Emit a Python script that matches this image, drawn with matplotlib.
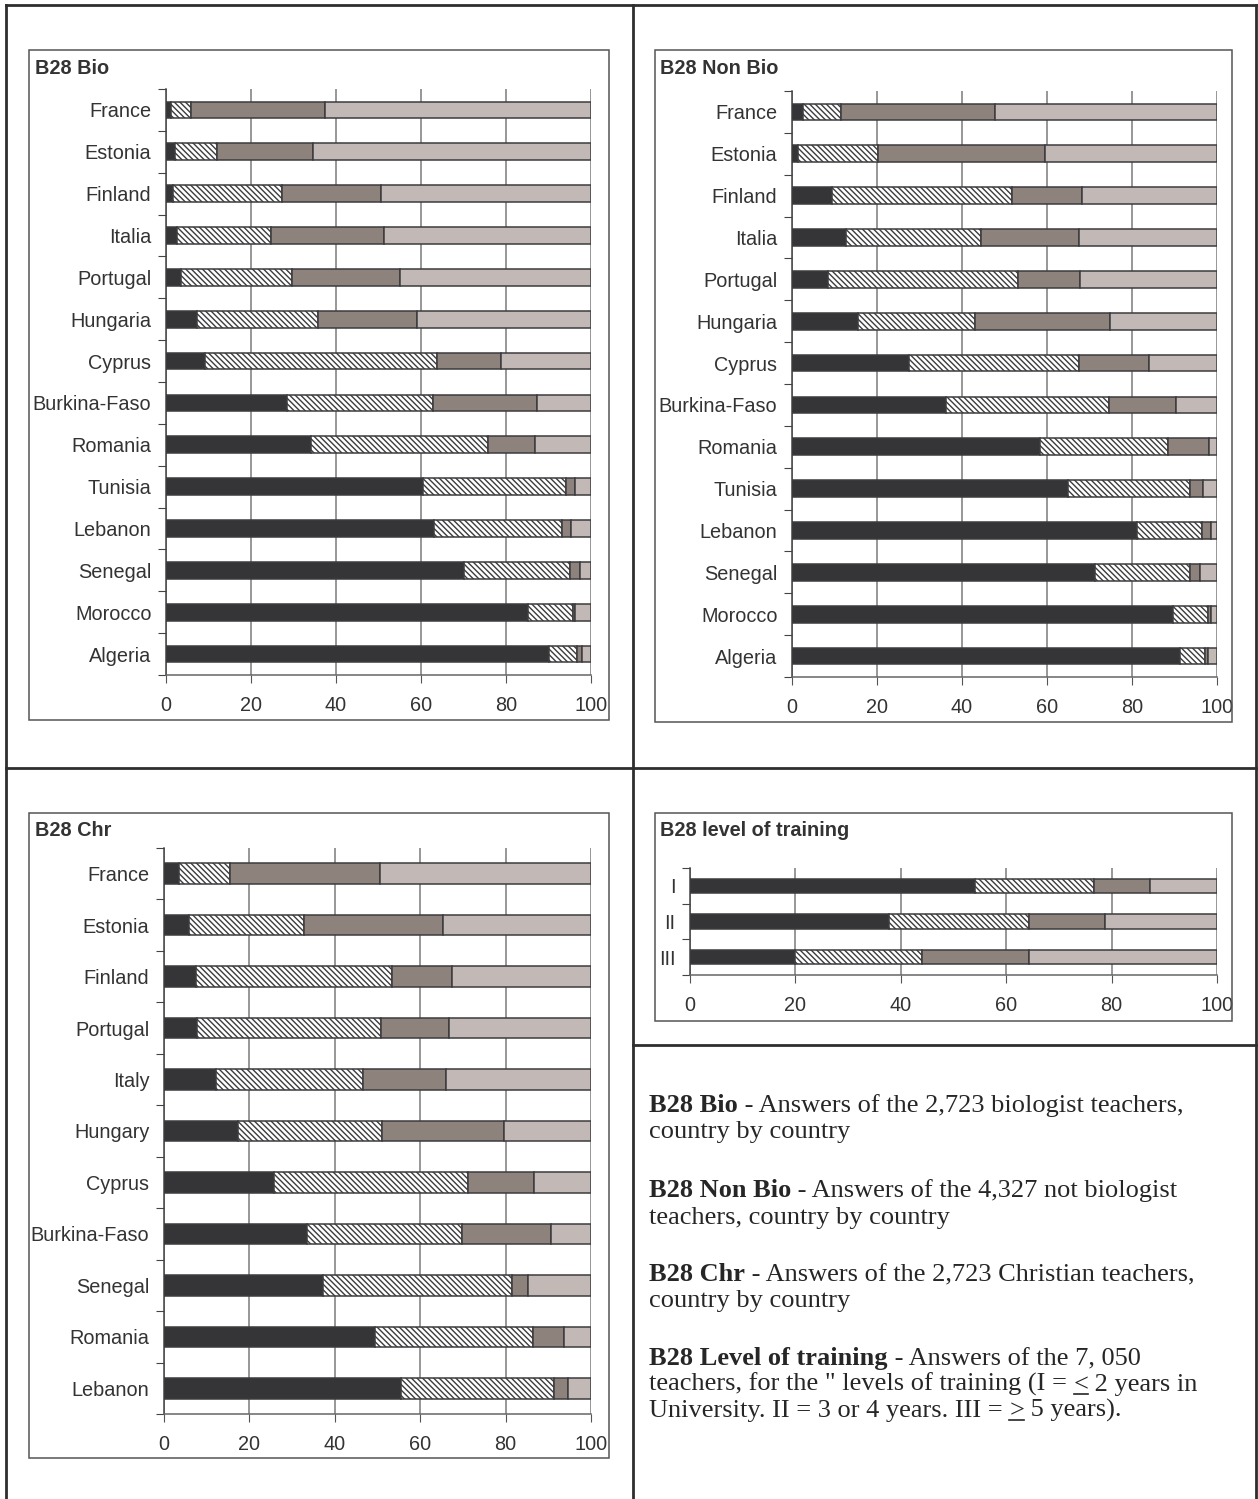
import matplotlib.pyplot as plt
import numpy as np
from matplotlib.lines import Line2D
from matplotlib.patches import Rectangle

W, H = 1258, 1499

# B28 Bio
bio_countries = ['France', 'Estonia', 'Finland', 'Italia', 'Portugal', 'Hungaria', 'Cyprus',
                 'Burkina-Faso', 'Romania', 'Tunisia', 'Lebanon', 'Senegal', 'Morocco', 'Algeria']
bio_s1 = [1.1, 2.0, 1.7, 2.7, 3.6, 7.2, 9.2, 28.4, 34.1, 60.4, 63.0, 70.2, 85.2, 90.0]
bio_s2 = [4.7, 10.1, 25.6, 22.0, 26.1, 28.6, 54.5, 34.4, 41.6, 33.7, 30.2, 24.9, 10.6, 6.7]
bio_s3 = [31.6, 22.4, 23.2, 26.7, 25.4, 23.2, 15.2, 24.6, 11.1, 2.2, 2.2, 2.3, 0.5, 1.1]
bio_s4 = [62.6, 65.5, 49.5, 48.6, 44.9, 41.0, 21.1, 12.6, 13.2, 3.7, 4.6, 2.6, 3.7, 2.2]

# B28 Non Bio
nonbio_countries = bio_countries
nonbio_s1 = [2.7, 1.5, 9.3, 12.6, 8.5, 15.5, 27.5, 36.2, 58.4, 65.0, 81.1, 71.2, 89.7, 91.3]
nonbio_s2 = [8.8, 18.7, 42.5, 31.9, 44.7, 27.6, 40.1, 38.5, 30.0, 28.6, 15.4, 22.4, 8.2, 5.8]
nonbio_s3 = [36.2, 39.3, 16.4, 23.0, 14.5, 31.7, 16.4, 15.7, 9.6, 3.1, 2.0, 2.5, 0.7, 0.7]
nonbio_s4 = [52.3, 40.5, 31.8, 32.5, 32.3, 25.2, 16.0, 9.6, 2.0, 3.3, 1.5, 3.9, 1.4, 2.2]

# B28 Chr
chr_countries = ['France', 'Estonia', 'Finland', 'Portugal', 'Italy', 'Hungary', 'Cyprus',
                 'Burkina-Faso', 'Senegal', 'Romania', 'Lebanon']
chr_s1 = [3.4, 5.9, 7.4, 7.7, 12.1, 17.4, 25.8, 33.5, 37.2, 49.4, 55.4]
chr_s2 = [12.1, 26.8, 46.1, 43.1, 34.6, 33.7, 45.4, 36.3, 44.3, 37.0, 35.9]
chr_s3 = [35.2, 32.7, 13.9, 15.9, 19.3, 28.6, 15.5, 20.8, 3.8, 7.2, 3.2]
chr_s4 = [49.3, 34.6, 32.6, 33.3, 34.0, 20.3, 13.3, 9.4, 14.7, 6.4, 5.5]

# B28 level of training
levels = ['I', 'II', 'III']
lvl_s1 = [54.1, 37.7, 20.0]
lvl_s2 = [22.5, 26.6, 24.0]
lvl_s3 = [10.6, 14.5, 20.4]
lvl_s4 = [12.8, 21.2, 35.6]

x_ticks = [0, 20, 40, 60, 80, 100]

DARK = '#353437'
BROWN = '#8e827d'
LIGHT = '#c2b8b5'
EDGE = '#3c3b3e'
FS = 14.3

plt.rcParams['font.family'] = ['Liberation Sans', 'DejaVu Sans']
plt.rcParams['hatch.linewidth'] = 1.0

fig = plt.figure(figsize=(W / 100, H / 100), dpi=100)


def fig_box(x0, y0, x1, y1):
    return [x0 / W, 1 - y1 / H, (x1 - x0) / W, (y1 - y0) / H]


def stacked_panel(rect, cats, series, title, frame, title_xy):
    # frame around the chart
    fx0, fy0, fx1, fy1 = frame
    fig.add_artist(Rectangle((fx0 / W, 1 - fy1 / H), (fx1 - fx0) / W, (fy1 - fy0) / H,
                             transform=fig.transFigure, fill=False, edgecolor='#555555', lw=1.1))
    fig.text(title_xy[0] / W, 1 - title_xy[1] / H, title, fontsize=FS, fontweight='bold',
             color='#333333', ha='left', va='center')

    ax = fig.add_axes(fig_box(*rect))
    n = len(cats)
    y = np.arange(n)
    left = np.zeros(n)
    styles = [dict(color=DARK), dict(color='white', hatch='\\' * 6),
              dict(color=BROWN), dict(color=LIGHT)]
    for vals, st in zip(series, styles):
        ax.barh(y, vals, left=left, height=0.4, edgecolor=EDGE, linewidth=1.1,
                zorder=3, **st)
        left = left + np.array(vals)

    ax.set_xlim(0, 100)
    ax.set_ylim(n - 0.5, -0.5)
    ax.set_xticks(x_ticks)
    ax.set_xticklabels([str(v) for v in x_ticks])
    ax.set_yticks(np.arange(n + 1) - 0.5)
    ax.set_yticklabels([])
    ax.set_yticks(y, minor=True)
    ax.set_yticklabels(cats, minor=True)
    ax.tick_params(axis='y', which='major', length=6, direction='out', color='#444444')
    ax.tick_params(axis='y', which='minor', length=0, pad=10.5, labelsize=FS, labelcolor='#333333')
    ax.tick_params(axis='x', length=6, direction='out', color='#555555', pad=9,
                   labelsize=FS, labelcolor='#333333')
    ax.grid(axis='x', color='#858585', lw=1.2, zorder=0)
    ax.set_axisbelow(True)
    for s in ['top', 'right']:
        ax.spines[s].set_visible(False)
    ax.spines['left'].set_color('#444444')
    ax.spines['bottom'].set_color('#666666')
    ax.spines['left'].set_linewidth(1.1)
    ax.spines['bottom'].set_linewidth(1.1)
    ax.patch.set_alpha(0)
    return ax


stacked_panel((166, 89, 591, 675), bio_countries, [bio_s1, bio_s2, bio_s3, bio_s4],
              'B28 Bio', (29, 50, 609, 720), (35, 68))
stacked_panel((792, 91, 1217, 677), nonbio_countries, [nonbio_s1, nonbio_s2, nonbio_s3, nonbio_s4],
              'B28 Non Bio', (655, 50, 1232, 722), (660, 68))
stacked_panel((164, 848, 591, 1414), chr_countries, [chr_s1, chr_s2, chr_s3, chr_s4],
              'B28 Chr', (29, 813, 609, 1458), (35, 831))
stacked_panel((690, 868, 1217, 975), levels, [lvl_s1, lvl_s2, lvl_s3, lvl_s4],
              'B28 level of training', (655, 813, 1232, 1021), (660, 831))

# table grid lines of the page
def page_line(x0, y0, x1, y1):
    fig.add_artist(Line2D([x0 / W, x1 / W], [1 - y0 / H, 1 - y1 / H],
                          transform=fig.transFigure, color='#2e2e2e', lw=2.0))

page_line(6, 5, 1256, 5)
page_line(6, 5, 6, 1499)
page_line(1256, 5, 1256, 1499)
page_line(633, 5, 633, 1499)
page_line(6, 768, 1256, 768)
page_line(633, 1045, 1256, 1045)

# captions with bold lead-ins
TFS = 19
caption_lines = [
    (1112, [('B28 Bio', 'bold', False), (' - Answers of the 2,723 biologist teachers,', 'normal', False)]),
    (1138, [('country by country', 'normal', False)]),
    (1197, [('B28 Non Bio', 'bold', False), (' - Answers of the 4,327 not biologist', 'normal', False)]),
    (1224, [('teachers, country by country', 'normal', False)]),
    (1281, [('B28 Chr', 'bold', False), (' - Answers of the 2,723 Christian teachers,', 'normal', False)]),
    (1307, [('country by country', 'normal', False)]),
    (1365, [('B28 Level of training', 'bold', False), (' - Answers of the 7, 050', 'normal', False)]),
    (1391, [('teachers, for the " levels of training (I = ', 'normal', False), ('<', 'normal', True),
            (' 2 years in', 'normal', False)]),
    (1417, [('University. II = 3 or 4 years. III = ', 'normal', False), ('>', 'normal', True),
            (' 5 years).', 'normal', False)]),
]

renderer = fig.canvas.get_renderer()
for yb, parts in caption_lines:
    x = 649
    for txt, wt, under in parts:
        t = fig.text(x / W, 1 - yb / H, txt, fontsize=TFS, fontweight=wt,
                     family=['Liberation Serif', 'DejaVu Serif'], color='#262626',
                     ha='left', va='baseline')
        bb = t.get_window_extent(renderer)
        if under:
            fig.add_artist(Line2D([bb.x0 / W, bb.x1 / W], [1 - (yb + 3) / H] * 2,
                                  transform=fig.transFigure, color='#262626', lw=1.2))
        x = bb.x1

fig.savefig('out.png', dpi=100)
